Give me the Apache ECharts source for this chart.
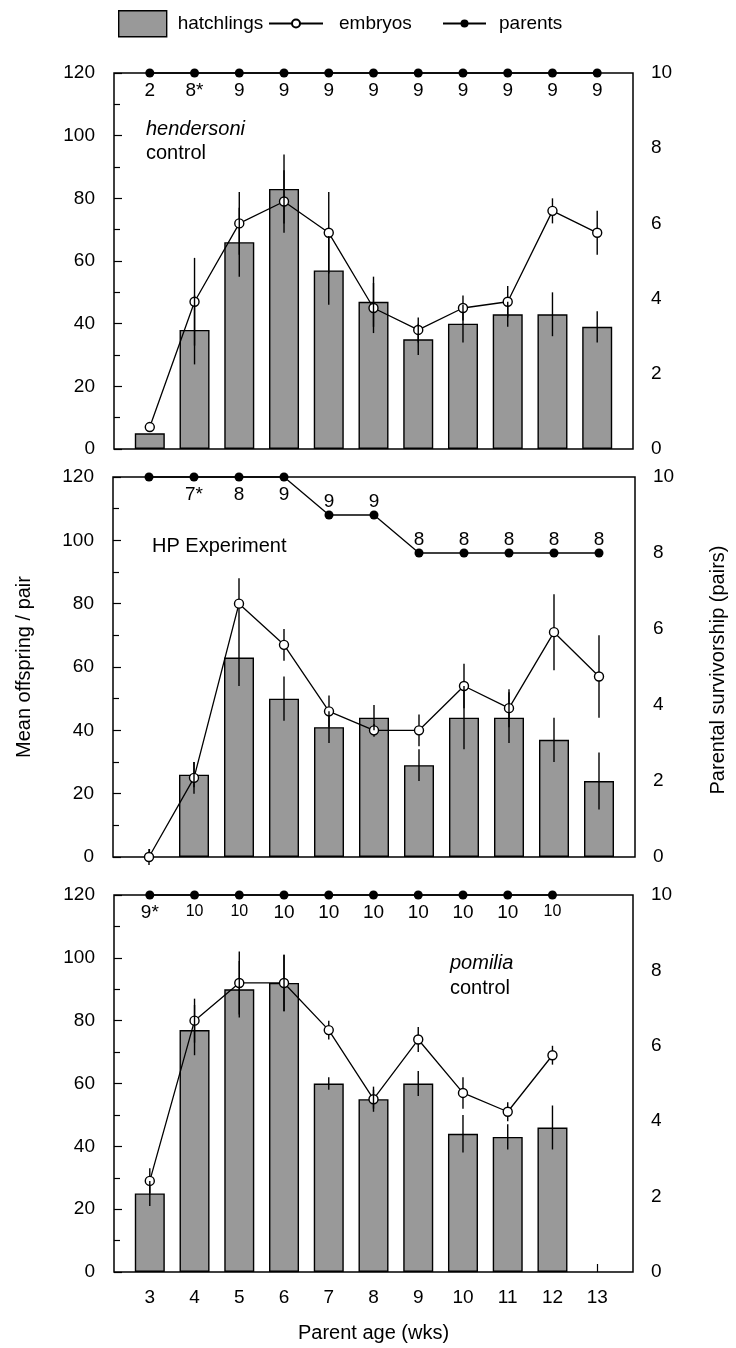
<!DOCTYPE html>
<html>
<head>
<meta charset="utf-8">
<script src="https://cdn.jsdelivr.net/npm/echarts@6/dist/echarts.min.js"></script>
<style>
  html, body { margin: 0; padding: 0; background: #fff; }
  #chart { width: 736px; height: 1348px; }
</style>
</head>
<body>
<div id="chart"></div>
<script>
// parent age (weeks)
const weeks = [3, 4, 5, 6, 7, 8, 9, 10, 11, 12, 13];

// hendersoni control
const hatch1 = [5, 38, 66, 83, 57, 47, 35, 40, 43, 43, 39];
const hatch1Err = [0, 11, 11, 11, 11, 8, 5, 6, 4, 7, 5];
const embryo1 = [7, 47, 72, 79, 69, 45, 38, 45, 47, 76, 69];
const embryo1Err = [0, 14, 10, 10, 13, 8, 4, 4, 5, 4, 7];
const parents1 = [10, 10, 10, 10, 10, 10, 10, 10, 10, 10, 10];
const pairs1 = ['2', '8*', '9', '9', '9', '9', '9', '9', '9', '9', '9'];

// HP experiment
const hatch2 = [null, 26, 63, 50, 41, 44, 29, 44, 44, 37, 24];
const hatch2Err = [0, 4, 9, 7, 5, 4, 5, 10, 8, 7, 9];
const embryo2 = [0, 25, 80, 67, 46, 40, 40, 54, 47, 71, 57];
const embryo2Err = [2.5, 5, 8, 5, 5, 2, 5, 7, 6, 12, 13];
const parents2 = [10, 10, 10, 10, 9, 9, 8, 8, 8, 8, 8];
const pairs2 = ['', '7*', '8', '9', '9', '9', '8', '8', '8', '8', '8'];

// pomilia control
const hatch3 = [25, 77, 90, 92, 60, 55, 60, 44, 43, 46, null];
const hatch3Err = [4, 8, 9, 9, 2, 4, 4, 6, 4, 7, 0];
const embryo3 = [29, 80, 92, 92, 77, 55, 74, 57, 51, 69, null];
const embryo3Err = [4, 7, 10, 9, 3, 3, 4, 5, 3, 3, 0];
const parents3 = [10, 10, 10, 10, 10, 10, 10, 10, 10, 10, null];
const pairs3 = ['9*', '10', '10', '10', '10', '10', '10', '10', '10', '10', ''];

const leftTicks = [0, 20, 40, 60, 80, 100, 120];
const rightTicks = [0, 2, 4, 6, 8, 10];

const FONT = 'Liberation Sans, Arial, sans-serif';

let chart = echarts.init(document.getElementById('chart'), null, { renderer: 'canvas' });

const grids = [
  { left: 114, right: 103, top: 73, height: 376 },
  { left: 113, right: 101, top: 477, height: 380 },
  { left: 114, right: 103, top: 895, height: 377 }
];

function pts(vals) {
  let out = [];
  for (let i = 0; i < weeks.length; i++) {
    if (vals[i] !== null) out.push([weeks[i], vals[i]]);
  }
  return out;
}

function errPts(vals, errs) {
  let out = [];
  for (let i = 0; i < weeks.length; i++) {
    if (vals[i] !== null && errs[i] > 0) out.push([weeks[i], vals[i] - errs[i], vals[i] + errs[i]]);
  }
  return out;
}

function errRender(params, api) {
  let a = api.coord([api.value(0), api.value(1)]);
  let b = api.coord([api.value(0), api.value(2)]);
  return {
    type: 'line',
    shape: { x1: a[0], y1: a[1], x2: b[0], y2: b[1] },
    style: { stroke: '#000', lineWidth: 1.4 }
  };
}

function parentPts(vals, labels, smallIdx) {
  let out = [];
  for (let i = 0; i < weeks.length; i++) {
    if (vals[i] === null) continue;
    let atTop = vals[i] === 10;
    out.push({
      value: [weeks[i], vals[i]],
      label: {
        formatter: labels[i],
        position: atTop ? 'bottom' : 'top',
        distance: atTop ? 4 : -1,
        fontSize: smallIdx.indexOf(i) >= 0 ? 16 : 19
      }
    });
  }
  return out;
}

const panels = [
  { hatch: hatch1, hErr: hatch1Err, emb: embryo1, eErr: embryo1Err, par: parents1, lab: pairs1, small: [] },
  { hatch: hatch2, hErr: hatch2Err, emb: embryo2, eErr: embryo2Err, par: parents2, lab: pairs2, small: [] },
  { hatch: hatch3, hErr: hatch3Err, emb: embryo3, eErr: embryo3Err, par: parents3, lab: pairs3, small: [1, 2, 9] }
];

let xAxes = [], yAxes = [], series = [];

panels.forEach(function (p, k) {
  let last = k === panels.length - 1;
  xAxes.push({
    type: 'value',
    gridIndex: k,
    min: 2.2,
    max: 13.8,
    splitLine: { show: false },
    axisLine: { show: false },
    axisTick: { show: true, inside: true, length: 8, customValues: weeks, lineStyle: { color: '#000', width: 1.2 } },
    axisLabel: {
      show: last, customValues: weeks, margin: 16,
      color: '#000', fontSize: 19, fontFamily: FONT
    },
    name: last ? 'Parent age (wks)' : '',
    nameLocation: 'middle',
    nameGap: 51,
    nameTextStyle: { color: '#000', fontSize: 20, fontFamily: FONT }
  });
  yAxes.push({
    type: 'value',
    gridIndex: k,
    position: 'left',
    min: 0,
    max: 120,
    interval: 20,
    splitLine: { show: false },
    axisLine: { show: false },
    axisTick: { show: true, inside: true, length: 8, lineStyle: { color: '#000', width: 1.2 } },
    minorTick: { show: true, splitNumber: 2, length: 6, lineStyle: { color: '#000', width: 1.2 } },
    axisLabel: { margin: 19, color: '#000', fontSize: 19, fontFamily: FONT,
      customValues: leftTicks }
  });
  yAxes.push({
    type: 'value',
    gridIndex: k,
    position: 'right',
    min: 0,
    max: 10,
    interval: 2,
    splitLine: { show: false },
    axisLine: { show: false },
    axisTick: { show: false },
    axisLabel: { margin: 18, color: '#000', fontSize: 19, fontFamily: FONT,
      customValues: rightTicks }
  });

  let yl = k * 2, yr = k * 2 + 1;

  series.push({
    name: 'hatchlings',
    type: 'bar',
    xAxisIndex: k,
    yAxisIndex: yl,
    barWidth: 30,
    data: pts(p.hatch),
    itemStyle: { color: '#999999', borderColor: '#000', borderWidth: 1.4 },
    z: 2
  });
  series.push({
    type: 'custom',
    xAxisIndex: k,
    yAxisIndex: yl,
    renderItem: errRender,
    data: errPts(p.emb, p.eErr),
    clip: false,
    silent: true,
    z: 3
  });
  series.push({
    name: 'embryos',
    type: 'line',
    xAxisIndex: k,
    yAxisIndex: yl,
    data: pts(p.emb),
    symbol: 'circle',
    symbolSize: 9,
    showAllSymbol: true,
    lineStyle: { color: '#000', width: 1.3 },
    itemStyle: { color: '#fff', borderColor: '#000', borderWidth: 1.4 },
    clip: false,
    z: 4
  });
  series.push({
    type: 'custom',
    xAxisIndex: k,
    yAxisIndex: yl,
    renderItem: errRender,
    data: errPts(p.hatch, p.hErr),
    clip: false,
    silent: true,
    z: 5
  });
  series.push({
    name: 'parents',
    type: 'line',
    xAxisIndex: k,
    yAxisIndex: yr,
    data: parentPts(p.par, p.lab, p.small),
    symbol: 'circle',
    symbolSize: 9,
    showAllSymbol: true,
    lineStyle: { color: '#000', width: 1.3 },
    itemStyle: { color: '#000' },
    label: { show: true, color: '#000', fontFamily: FONT },
    clip: false,
    z: 6
  });
});

let option = {
  backgroundColor: '#fff',
  animation: false,
  textStyle: { fontFamily: FONT },
  legend: [
    {
      data: [{ name: 'hatchlings', icon: 'rect' }],
      left: 113, top: 5,
      itemWidth: 48, itemHeight: 26,
      itemStyle: { borderColor: '#000', borderWidth: 1.4 },
      textStyle: { color: '#000', fontSize: 19, fontFamily: FONT, padding: [0, 0, 0, 6] }
    },
    {
      data: ['embryos'],
      left: 263, top: 9,
      itemWidth: 54, itemHeight: 10,
      textStyle: { color: '#000', fontSize: 19, fontFamily: FONT, padding: [0, 0, 0, 11] }
    },
    {
      data: ['parents'],
      left: 437, top: 9,
      itemWidth: 43, itemHeight: 10,
      textStyle: { color: '#000', fontSize: 19, fontFamily: FONT, padding: [0, 0, 0, 8] }
    }
  ],
  grid: grids.map(function (g) {
    return Object.assign({ show: true, borderColor: '#000', borderWidth: 1.5, backgroundColor: 'transparent' }, g);
  }),
  xAxis: xAxes,
  yAxis: yAxes,
  series: series,
  graphic: [
    { type: 'text', x: 146, y: 129, style: { text: 'hendersoni', font: 'italic 20px ' + FONT, fill: '#000', verticalAlign: 'middle' } },
    { type: 'text', x: 146, y: 153, style: { text: 'control', font: '20px ' + FONT, fill: '#000', verticalAlign: 'middle' } },
    { type: 'text', x: 152, y: 546, style: { text: 'HP Experiment', font: '20px ' + FONT, fill: '#000', verticalAlign: 'middle' } },
    { type: 'text', x: 450, y: 963, style: { text: 'pomilia', font: 'italic 20px ' + FONT, fill: '#000', verticalAlign: 'middle' } },
    { type: 'text', x: 450, y: 988, style: { text: 'control', font: '20px ' + FONT, fill: '#000', verticalAlign: 'middle' } },
    { type: 'text', x: 24, y: 667, rotation: Math.PI / 2,
      style: { text: 'Mean offspring / pair', font: '20px ' + FONT, fill: '#000', align: 'center', verticalAlign: 'middle' } },
    { type: 'text', x: 718, y: 670, rotation: Math.PI / 2,
      style: { text: 'Parental survivorship (pairs)', font: '20px ' + FONT, fill: '#000', align: 'center', verticalAlign: 'middle' } }
  ]
};

option && chart.setOption(option);
</script>
</body>
</html>
